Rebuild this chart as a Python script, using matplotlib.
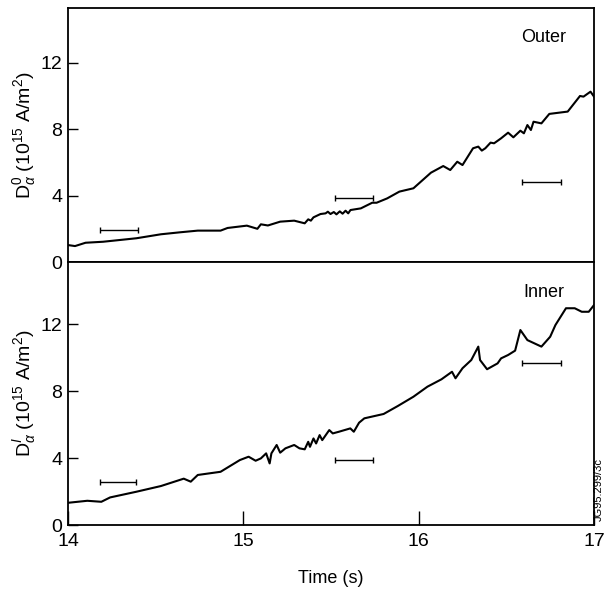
import numpy as np
import matplotlib
matplotlib.use('Agg')
import matplotlib.pyplot as plt

plt.rcParams['font.family'] = ['Liberation Sans', 'DejaVu Sans']
plt.rcParams['mathtext.fontset'] = 'custom'
plt.rcParams['mathtext.rm'] = 'Liberation Sans'
plt.rcParams['mathtext.it'] = 'Liberation Sans:italic'
plt.rcParams['mathtext.bf'] = 'Liberation Sans:bold'

# Outer D-alpha trace (time in s, value in 1e15 A/m^2)
outer_t = [14.00, 14.04, 14.10, 14.20, 14.39, 14.53, 14.64, 14.74, 14.87, 14.91,
           15.02, 15.08, 15.10, 15.14, 15.21, 15.29, 15.35, 15.37, 15.385, 15.40,
           15.44, 15.469, 15.482, 15.497, 15.516, 15.531, 15.55, 15.566, 15.583, 15.598,
           15.611, 15.67, 15.735, 15.76, 15.82, 15.89, 15.97, 16.07, 16.14, 16.18,
           16.22, 16.25, 16.31, 16.34, 16.36, 16.38, 16.41, 16.43, 16.47, 16.51,
           16.54, 16.58, 16.60, 16.62, 16.64, 16.655, 16.70, 16.745, 16.85, 16.92,
           16.94, 16.98, 17.00]
outer_v = [1.02, 0.96, 1.16, 1.22, 1.43, 1.67, 1.79, 1.89, 1.89, 2.05,
           2.19, 2.00, 2.27, 2.20, 2.43, 2.49, 2.33, 2.57, 2.49, 2.69,
           2.89, 2.93, 3.03, 2.89, 3.01, 2.87, 3.05, 2.91, 3.09, 2.93,
           3.13, 3.23, 3.57, 3.57, 3.83, 4.24, 4.44, 5.38, 5.78, 5.54,
           6.04, 5.84, 6.85, 6.95, 6.71, 6.85, 7.19, 7.15, 7.45, 7.79,
           7.51, 7.91, 7.75, 8.25, 7.95, 8.45, 8.35, 8.92, 9.06, 10.00,
           9.96, 10.26, 9.96]

# Inner D-alpha trace
inner_t = [14.00, 14.11, 14.19, 14.24, 14.39, 14.53, 14.66, 14.70, 14.74, 14.87,
           14.98, 15.03, 15.07, 15.10, 15.13, 15.15, 15.16, 15.19, 15.21, 15.24,
           15.29, 15.32, 15.35, 15.37, 15.38, 15.40, 15.415, 15.435, 15.45, 15.49,
           15.51, 15.545, 15.61, 15.63, 15.66, 15.69, 15.80, 15.88, 15.97, 16.05,
           16.13, 16.19, 16.21, 16.25, 16.30, 16.34, 16.35, 16.39, 16.45, 16.47,
           16.51, 16.55, 16.58, 16.62, 16.70, 16.75, 16.78, 16.84, 16.89, 16.93,
           16.97, 17.00]
inner_v = [1.33, 1.45, 1.39, 1.65, 1.99, 2.33, 2.77, 2.59, 2.99, 3.18,
           3.88, 4.08, 3.84, 3.98, 4.28, 3.68, 4.28, 4.78, 4.32, 4.58,
           4.78, 4.58, 4.52, 4.97, 4.67, 5.17, 4.87, 5.37, 5.07, 5.67,
           5.47, 5.57, 5.77, 5.57, 6.11, 6.37, 6.63, 7.10, 7.66, 8.26,
           8.70, 9.15, 8.76, 9.36, 9.85, 10.65, 9.85, 9.30, 9.65, 9.95,
           10.15, 10.41, 11.64, 11.04, 10.65, 11.24, 11.94, 12.94, 12.94, 12.73,
           12.73, 13.13]

# horizontal bars: (start, end, level)
outer_bar_t0 = [14.18, 15.52, 16.59]
outer_bar_t1 = [14.40, 15.74, 16.81]
outer_bar_v = [1.9, 3.85, 4.8]
inner_bar_t0 = [14.18, 15.52, 16.59]
inner_bar_t1 = [14.39, 15.74, 16.81]
inner_bar_v = [2.57, 3.9, 9.7]

yticks = [0, 4, 8, 12]
xticks = [14, 15, 16, 17]

fig = plt.figure(figsize=(6.10, 5.96), dpi=100)
ax1 = fig.add_axes([0.1115, 0.5604, 0.8623, 0.4262])
ax2 = fig.add_axes([0.1115, 0.1190, 0.8623, 0.4414])


def draw_panel(ax, t, v, b0, b1, bv, ymax, name, ylab):
    ax.plot(t, v, color='black', lw=1.5)
    b0 = np.array(b0)
    b1 = np.array(b1)
    ax.errorbar((b0 + b1) / 2, bv, xerr=(b1 - b0) / 2, fmt='none',
                ecolor='black', elinewidth=1.0, capsize=2.5, capthick=1.0)
    ax.set_xlim(14, 17)
    ax.set_ylim(0, ymax)
    ax.set_yticks(yticks)
    ax.tick_params(axis='y', direction='in', length=7, width=1.0,
                   labelsize=14, pad=4)
    ax.text(0.905, 0.885, name, transform=ax.transAxes, ha='center',
            va='center', fontsize=13)
    ax.set_ylabel(ylab, fontsize=14, labelpad=2)
    for s in ax.spines.values():
        s.set_linewidth(1.3)


draw_panel(ax1, outer_t, outer_v, outer_bar_t0, outer_bar_t1, outer_bar_v,
           15.3, 'Outer', r'D$_\alpha^{0}$ (10$^{15}$ A/m$^2$)')
draw_panel(ax2, inner_t, inner_v, inner_bar_t0, inner_bar_t1, inner_bar_v,
           15.7, 'Inner', r'D$_\alpha^{I}$ (10$^{15}$ A/m$^2$)')

ax1.set_xticks([])
ax2.set_xticks(xticks)
ax2.tick_params(axis='x', direction='in', length=10, width=1.0,
                labelsize=14, pad=6)
ax2.set_xlabel('Time (s)', fontsize=13, labelpad=14)

fig.text(0.981, 0.178, 'JG95.299/3c', rotation=90, ha='center', va='center',
         fontsize=8)

fig.savefig('out.png', dpi=100)
